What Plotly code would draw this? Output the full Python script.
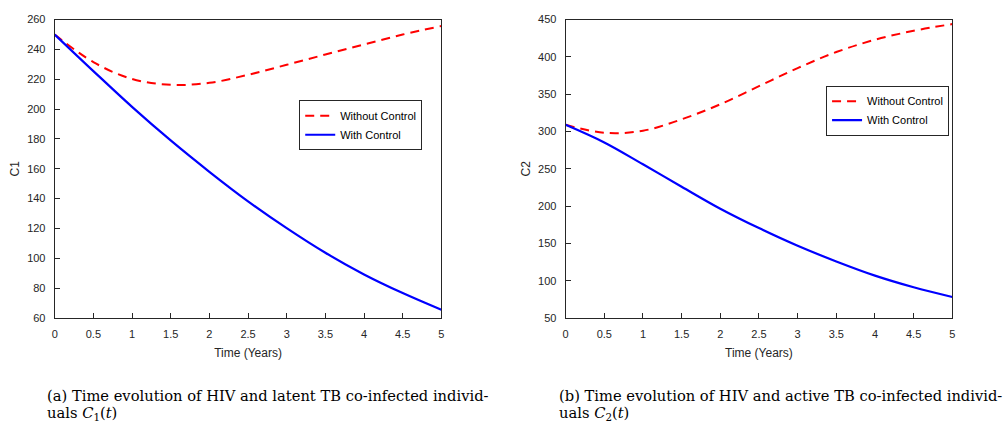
import plotly.graph_objects as go

# Time (years)
t = [0, 0.5, 1, 1.5, 2, 2.5, 3, 3.5, 4, 4.5, 5]

# C1(t)
c1_without = [250, 231.5, 220.2, 216.3, 217.6, 223, 229.7, 236.6, 243.3, 250, 255.7]
c1_with = [250, 225.5, 201.5, 179, 158, 138.2, 120.2, 103.7, 89.2, 76.7, 65.5]

# C2(t)
c2_without = [309, 298.3, 301, 316.3, 336.5, 360.8, 385, 406.5, 423, 435, 444]
c2_with = [309, 285.3, 256, 226, 196.5, 170.5, 146.8, 125.8, 106.8, 91.2, 78.2]

legend_names = ["Without Control", "With Control"]
x_ticks = [0, 0.5, 1, 1.5, 2, 2.5, 3, 3.5, 4, 4.5, 5]
x_tick_text = ["0", "0.5", "1", "1.5", "2", "2.5", "3", "3.5", "4", "4.5", "5"]

RED = "#ff0000"
BLUE = "#0000ff"
AX = "#262626"
W, H = 1005, 427

fig = go.Figure()
fig.add_trace(go.Scatter(x=t, y=c1_without, mode="lines", name=legend_names[0],
                         line=dict(color=RED, width=2, dash="9px,6px", shape="spline"),
                         xaxis="x", yaxis="y", legend="legend"))
fig.add_trace(go.Scatter(x=t, y=c1_with, mode="lines", name=legend_names[1],
                         line=dict(color=BLUE, width=2.2, shape="spline"),
                         xaxis="x", yaxis="y", legend="legend"))
fig.add_trace(go.Scatter(x=t, y=c2_without, mode="lines", name=legend_names[0],
                         line=dict(color=RED, width=2, dash="9px,6px", shape="spline"),
                         xaxis="x2", yaxis="y2", legend="legend2"))
fig.add_trace(go.Scatter(x=t, y=c2_with, mode="lines", name=legend_names[1],
                         line=dict(color=BLUE, width=2.2, shape="spline"),
                         xaxis="x2", yaxis="y2", legend="legend2"))

ydom = [1 - 321 / H, 1 - 14 / H]
axis_common = dict(showline=True, mirror=True, linecolor=AX, linewidth=1,
                   ticks="inside", ticklen=5, tickcolor=AX, showgrid=False,
                   zeroline=False, ticklabelstandoff=6,
                   tickfont=dict(family="Liberation Sans", size=11, color=AX))

fig.update_layout(
    width=W, height=H,
    margin=dict(l=0, r=0, t=0, b=0),
    paper_bgcolor="white", plot_bgcolor="white",
    font=dict(family="Liberation Sans", color=AX),
    xaxis=dict(domain=[52 / W, 441 / W], range=[0, 5], tickvals=x_ticks, ticktext=x_tick_text,
               anchor="y", title=dict(text="Time (Years)", font=dict(size=12), standoff=9), **axis_common),
    yaxis=dict(domain=ydom, range=[60, 260], dtick=20, anchor="x",
               title=dict(text="C1", font=dict(size=12), standoff=4), **axis_common),
    xaxis2=dict(domain=[566 / W, 955 / W], range=[0, 5], tickvals=x_ticks, ticktext=x_tick_text,
                anchor="y2", title=dict(text="Time (Years)", font=dict(size=12), standoff=9), **axis_common),
    yaxis2=dict(domain=ydom, range=[50, 450], dtick=50, anchor="x2",
                title=dict(text="C2", font=dict(size=12), standoff=4), **axis_common),
    legend=dict(x=298 / W, y=1 - 97 / H, xanchor="left", yanchor="top",
                bgcolor="white", bordercolor=AX, borderwidth=1,
                font=dict(family="Liberation Sans", size=11, color="#000000"), tracegroupgap=0,
                itemwidth=30),
    legend2=dict(x=828 / W, y=1 - 82 / H, xanchor="left", yanchor="top",
                 bgcolor="white", bordercolor=AX, borderwidth=1,
                 font=dict(family="Liberation Sans", size=11, color="#000000"), tracegroupgap=0,
                 itemwidth=30),
    showlegend=True,
)

cap_font = dict(family="DejaVu Serif", size=14.7, color="#000000")
captions = [
    (42, "(a) Time evolution of HIV and latent TB co-infected individ-",
     "uals <i>C</i><sub>1</sub>(<i>t</i>)"),
    (557, "(b) Time evolution of HIV and active TB co-infected individ-",
     "uals <i>C</i><sub>2</sub>(<i>t</i>)"),
]
for x0, l1, l2 in captions:
    fig.add_annotation(x=x0 / W, y=1 - 390 / H, xref="paper", yref="paper", text=l1,
                       showarrow=False, xanchor="left", yanchor="top", font=cap_font)
    fig.add_annotation(x=x0 / W, y=1 - 407.5 / H, xref="paper", yref="paper", text=l2,
                       showarrow=False, xanchor="left", yanchor="top", font=cap_font)

fig.write_html("out.html")
